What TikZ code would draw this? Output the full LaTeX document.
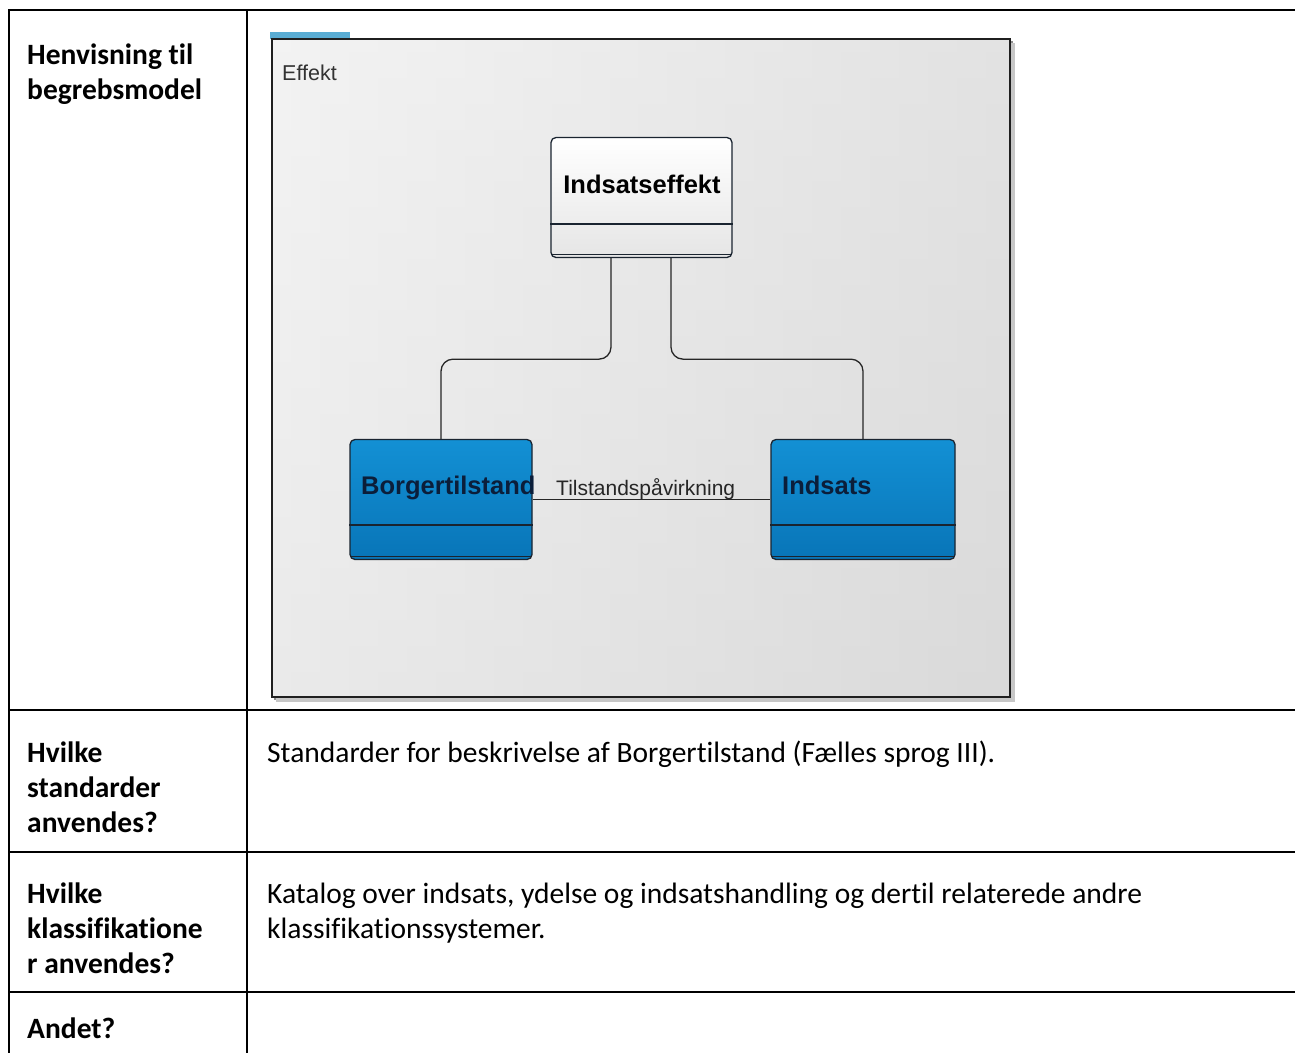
\documentclass[tikz,border=0pt]{standalone}
\usepackage{fontspec}
\newfontfamily\calfont[Ligatures=NoCommon]{Carlito}
\newfontfamily\arfont{Liberation Sans}
\definecolor{clsblueT}{HTML}{1390D4}
\definecolor{clsblueB}{HTML}{0875B8}
\definecolor{clsline}{HTML}{1A2430}
\definecolor{clstext}{HTML}{0B1E3A}
\definecolor{tabblue}{HTML}{5AADD4}
\begin{document}
\begin{tikzpicture}[x=1pt,y=-1pt,
  tline/.style={line width=2.2pt, black},
  lbl/.style={font=\calfont\bfseries\fontsize{29.5}{35}\selectfont, anchor=base west, inner sep=0},
  body/.style={font=\calfont\fontsize{29.5}{35}\selectfont, anchor=base west, inner sep=0},
  cls/.style={draw=clsline, line width=1.3pt, rounded corners=5pt, minimum height=120pt, inner sep=0},
  bluecls/.style={cls, top color=clsblueT, bottom color=clsblueB},
  whitecls/.style={cls, top color=white, bottom color=black!10},
  clsname/.style={font=\arfont\bfseries\fontsize{25.5}{30}\selectfont, inner sep=0},
  assoc/.style={draw=black!85, line width=1.3pt},
  comp/.style={draw=clsline, line width=1.2pt}
]
\useasboundingbox (0,0) rectangle (1295,1053);
\fill[white] (0,0) rectangle (1295,1053);

% table grid
\draw[tline] (8,10) -- (1295,10);
\draw[tline] (9,9) -- (9,1053);
\draw[tline] (247,10) -- (247,1053);
\draw[tline] (8,710) -- (1295,710);
\draw[tline] (8,852) -- (1295,852);
\draw[tline] (8,992) -- (1295,992);

% left column labels
\node[lbl] (l1a) at (27,64) {Henvisning til};
\node[lbl] (l1b) at (27,99) {begrebsmodel};
\node[lbl] (l2a) at (27,762) {Hvilke};
\node[lbl] (l2b) at (27,797) {standarder};
\node[lbl] (l2c) at (27,832) {anvendes?};
\node[lbl] (l3a) at (27,903) {Hvilke};
\node[lbl] (l3b) at (27,938) {klassifikatione};
\node[lbl] (l3c) at (27,973) {r anvendes?};
\node[lbl] (l4a) at (27,1038) {Andet?};

% right column text
\node[body] (t2) at (267,762) {Standarder for beskrivelse af Borgertilstand (Fælles sprog III).};
\node[body] (t3a) at (267,903) {Katalog over indsats, ydelse og indsatshandling og dertil relaterede andre};
\node[body] (t3b) at (267,938) {klassifikationssystemer.};

% diagram frame
\fill[black!45] (274,41) rectangle (1013,700);
\fill[black!22] (276,43) rectangle (1015,702);
\fill[tabblue] (270,32) rectangle (350,39);
\path[left color=black!7, right color=black!17] (272,39) rectangle (1010,697);
\path[top color=white, bottom color=black!10, opacity=0.35] (272,39) rectangle (1010,697);
\draw[line width=2.6pt, draw=black!88] (272,39) rectangle (1010,697);
\node[font=\arfont\fontsize{21.5}{26}\selectfont, text=black!80, anchor=base west, inner sep=0] (eff) at (282,80) {Effekt};

% classes
\node[whitecls, minimum width=181pt] (ie) at (641.5,197.5) {};
\node[bluecls, minimum width=182pt] (bt) at (441,499.5) {};
\node[bluecls, minimum width=184pt] (ind) at (863,499.5) {};

\foreach \n/\y in {ie/224, bt/525, ind/525}{
  \draw[comp] (\n.west |- 0,\y) -- (\n.east |- 0,\y);
  \draw[comp] ([xshift=1.5pt,yshift=4pt]\n.south west) -- ([xshift=-1.5pt,yshift=4pt]\n.south east);
}

\node[clsname, anchor=base, text=black] (iet) at (642,193) {Indsatseffekt};
\node[clsname, anchor=base west, text=clstext] (btt) at (361,494) {Borgertilstand};
\node[clsname, anchor=base west, text=clstext] (indt) at (782,494) {Indsats};

% connectors
\draw[assoc, rounded corners=12pt] ([xshift=-30.5pt]ie.south) -- ++(0,101) -| (bt.north);
\draw[assoc, rounded corners=12pt] ([xshift=29.5pt]ie.south) -- ++(0,101) -| (ind.north);
\draw[assoc] (bt.east) -- (ind.west);
\node[font=\arfont\fontsize{21}{26}\selectfont, text=black!85, anchor=base west, inner sep=0] (lab) at (556,495) {Tilstandspåvirkning};
\end{tikzpicture}
\end{document}
